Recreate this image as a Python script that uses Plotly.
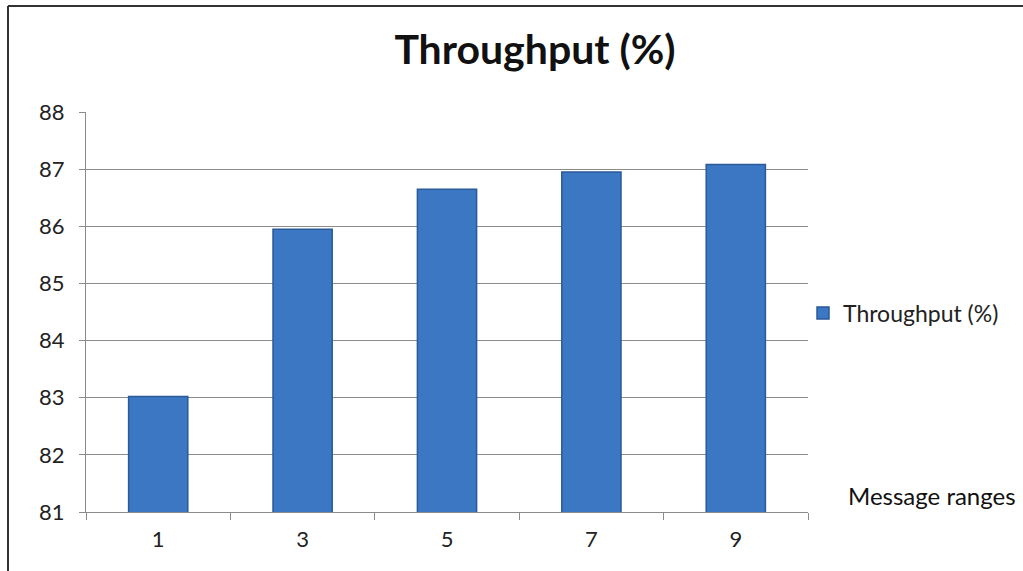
import plotly.graph_objects as go

# Message ranges and measured throughput
categories = ["1", "3", "5", "7", "9"]
throughput = [83.02, 85.95, 86.65, 86.95, 87.08]
y_ticks = [81, 82, 83, 84, 85, 86, 87, 88]

W, H = 1023, 571
L, R, T, B = 86, 215, 112, 59

fig = go.Figure()
fig.add_trace(go.Bar(
    x=categories,
    y=throughput,
    name="Throughput (%)",
    marker=dict(color="#3B77C3", line=dict(color="#2A5A98", width=1.5)),
    width=0.41,
))

font_family = "Lato, 'Open Sans', sans-serif"

fig.update_layout(
    width=W, height=H,
    margin=dict(l=L, r=R, t=T, b=B, pad=0),
    paper_bgcolor="white",
    plot_bgcolor="white",
    font=dict(family=font_family, color="#222", size=22),
    title=dict(
        text="<b>Throughput (%)</b>",
        x=535 / W, xanchor="center",
        y=1 - 50 / H, yanchor="middle",
        font=dict(size=41, color="#111", family=font_family),
    ),
    showlegend=True,
    legend=dict(
        x=(803 - L) / (W - L - R), xanchor="left",
        y=(H - B - 313) / (H - T - B), yanchor="middle",
        font=dict(size=23, color="#222"),
        bgcolor="rgba(0,0,0,0)",
        itemwidth=30,
    ),
    bargap=0.59,
)

fig.update_xaxes(
    type="category",
    showline=True, linecolor="#8C8C8C", linewidth=1,
    ticks="outside", tickson="boundaries", ticklen=7, tickcolor="#8C8C8C",
    showgrid=False,
    tickfont=dict(size=22, color="#222"),
    ticklabelstandoff=8,
)
fig.update_yaxes(
    range=[81, 88],
    tickvals=y_ticks,
    showline=True, linecolor="#8C8C8C", linewidth=1,
    ticks="outside", ticklen=6, tickcolor="#8C8C8C",
    showgrid=True, gridcolor="#8C8C8C", gridwidth=1,
    zeroline=False,
    tickfont=dict(size=22, color="#222"),
    ticklabelstandoff=10,
)

# Axis caption on the right
fig.add_annotation(
    text="Message ranges",
    xref="paper", yref="paper",
    x=(846 - L) / (W - L - R), xanchor="left",
    y=(H - B - 495) / (H - T - B), yanchor="middle",
    showarrow=False,
    font=dict(size=24, color="#111"),
)

# Chart frame (top and left edges)
fig.add_shape(type="line", xref="paper", yref="paper",
              x0=(8 - L) / (W - L - R), x1=(8 - L) / (W - L - R),
              y0=-B / (H - T - B), y1=(H - B - 6) / (H - T - B),
              line=dict(color="#333", width=2))
fig.add_shape(type="line", xref="paper", yref="paper",
              x0=(8 - L) / (W - L - R), x1=(W - L) / (W - L - R),
              y0=(H - B - 6) / (H - T - B), y1=(H - B - 6) / (H - T - B),
              line=dict(color="#333", width=2))

fig.write_html("out.html")
